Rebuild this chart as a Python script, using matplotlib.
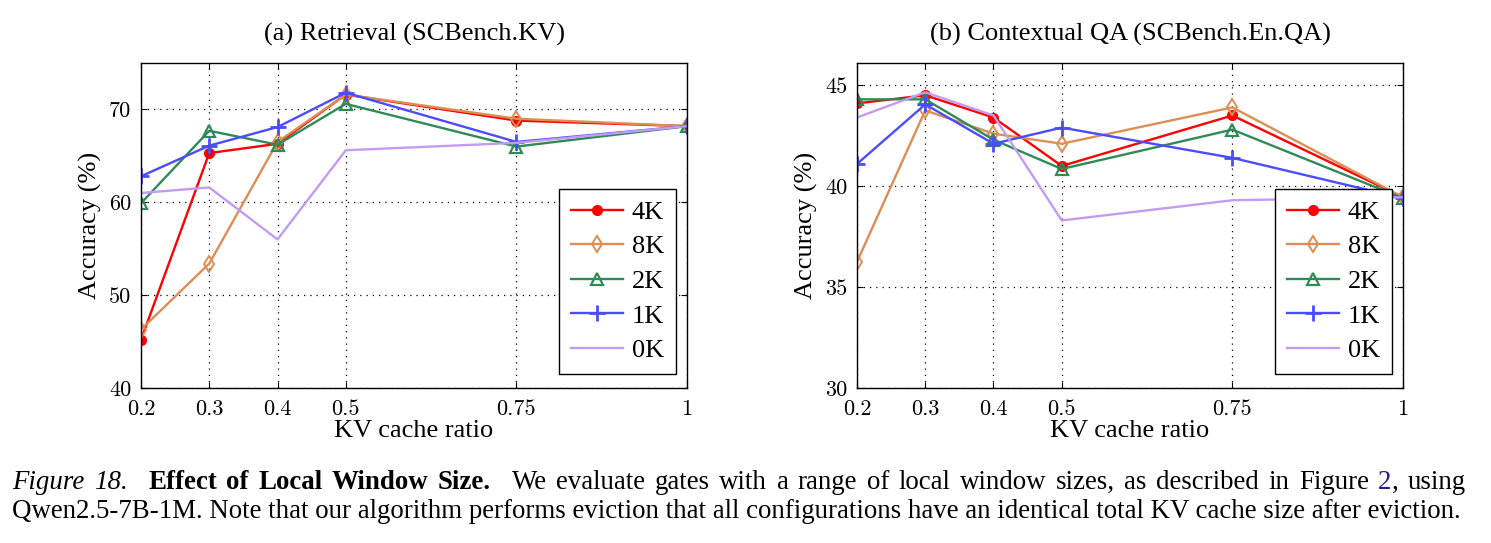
import numpy as np
import matplotlib.pyplot as plt

plt.rcParams['font.family'] = ['Liberation Serif', 'DejaVu Serif']

ratios = [0.2, 0.3, 0.4, 0.5, 0.75, 1]
ratio_labels = ['0.2', '0.3', '0.4', '0.5', '0.75', '1']
series = ['4K', '8K', '2K', '1K', '0K']

# (a) Retrieval (SCBench.KV)
kv_4k = [45.2, 65.3, 66.3, 71.6, 68.8, 68.2]
kv_8k = [46.3, 53.4, 66.5, 71.6, 69.0, 68.2]
kv_2k = [59.9, 67.7, 66.2, 70.6, 66.0, 68.2]
kv_1k = [62.8, 66.1, 68.1, 71.8, 66.5, 68.2]
kv_0k = [61.0, 61.6, 56.0, 65.6, 66.4, 68.2]

# (b) Contextual QA (SCBench.En.QA)
qa_4k = [44.1, 44.5, 43.4, 41.0, 43.5, 39.45]
qa_8k = [36.25, 43.75, 42.6, 42.1, 43.9, 39.45]
qa_2k = [44.3, 44.3, 42.3, 40.85, 42.8, 39.4]
qa_1k = [41.1, 44.05, 42.1, 42.9, 41.4, 39.4]
qa_0k = [43.4, 44.65, 43.5, 38.3, 39.3, 39.45]

styles = {
    '4K': dict(color='#FF0000', marker='o', ms=7),
    '8K': dict(color='#DC8E55', marker='d', mfc='none', ms=8, mew=1.4),
    '2K': dict(color='#2E8B57', marker='^', mfc='none', ms=8, mew=1.6),
    '1K': dict(color='#4B4BFF', marker='+', ms=11, mew=2),
    '0K': dict(color='#C39BF0', marker=None),
}

fig = plt.figure(figsize=(14.91, 5.43), dpi=100)
W, H = 1491, 543


def make_axes(x0, title, data, ylim, yticks):
    ax = fig.add_axes([x0 / W, (H - 388) / H, 546 / W, 325 / H])
    for name, vals in zip(series, data):
        ax.plot(ratios, vals, lw=1.7, label=name, **styles[name])
    ax.set_xlim(0.2, 1)
    ax.set_ylim(*ylim)
    ax.set_xticks(ratios)
    ax.set_xticklabels(ratio_labels, fontfamily='cmr10')
    ax.set_yticks(yticks)
    ax.set_yticklabels([str(t) for t in yticks], fontfamily='cmr10')
    ax.tick_params(direction='in', top=True, right=True, labelsize=16, length=4)
    ax.tick_params(axis='x', pad=8)
    ax.tick_params(axis='y', pad=7)
    ax.grid(True, linestyle=(0, (1, 4)), color='black', lw=0.9)
    ax.set_title(title, fontsize=19, pad=16)
    ax.set_xlabel('KV cache ratio', fontsize=19, labelpad=1)
    ax.set_ylabel('Accuracy (%)', fontsize=19, labelpad=5)
    for s in ax.spines.values():
        s.set_linewidth(1.0)
    leg = ax.legend(loc='lower right', bbox_to_anchor=(0.98, 0.043), fontsize=19,
                    fancybox=False, edgecolor='black', framealpha=1,
                    handlelength=1.95, handletextpad=0.35, labelspacing=0.42,
                    borderpad=0.45, borderaxespad=0)
    leg.get_frame().set_linewidth(1.0)
    return ax


make_axes(141, '(a) Retrieval (SCBench.KV)', [kv_4k, kv_8k, kv_2k, kv_1k, kv_0k],
          (40, 75), [40, 50, 60, 70])
make_axes(857, '(b) Contextual QA (SCBench.En.QA)', [qa_4k, qa_8k, qa_2k, qa_1k, qa_0k],
          (30, 46.1), [30, 35, 40, 45])

# caption
renderer = fig.canvas.get_renderer()
line2 = ('Qwen2.5-7B-1M. Note that our algorithm performs eviction that all '
         'configurations have an identical total KV cache size after eviction.')
probe = fig.text(0, 0, line2, fontsize=10)
cap_fs = 10 * 1453 / probe.get_window_extent(renderer).width
probe.remove()

line1 = [[('Figure', 'italic', 'normal', 'black')], [('18.', 'italic', 'normal', 'black')]]
line1 += [[(w, 'normal', 'bold', 'black')] for w in 'Effect of Local Window Size.'.split()]
line1 += [[(w, 'normal', 'normal', 'black')] for w in
          'We evaluate gates with a range of local window sizes, as described in Figure'.split()]
line1 += [[('2', 'normal', 'normal', '#1F1F8F'), (',', 'normal', 'normal', 'black')]]
line1 += [[('using', 'normal', 'normal', 'black')]]
gap_weight = [1] * (len(line1) - 1)
gap_weight[1] = 2.2
gap_weight[6] = 2.2


def seg_width(seg):
    t = fig.text(0, 0, seg[0], fontsize=cap_fs, style=seg[1], weight=seg[2])
    w = t.get_window_extent(renderer).width
    t.remove()
    return w


widths = [[seg_width(s) for s in word] for word in line1]
total = sum(sum(w) for w in widths)
unit = (1466 - 12 - total) / sum(gap_weight)
x = 12
y1 = (H - 489) / H
for i, word in enumerate(line1):
    for seg, w in zip(word, widths[i]):
        fig.text(x / W, y1, seg[0], fontsize=cap_fs, style=seg[1], weight=seg[2],
                 color=seg[3], va='baseline')
        x += w
    if i < len(gap_weight):
        x += unit * gap_weight[i]

fig.text(12 / W, (H - 518) / H, line2, fontsize=cap_fs, va='baseline')

fig.savefig('out.png', dpi=100)
